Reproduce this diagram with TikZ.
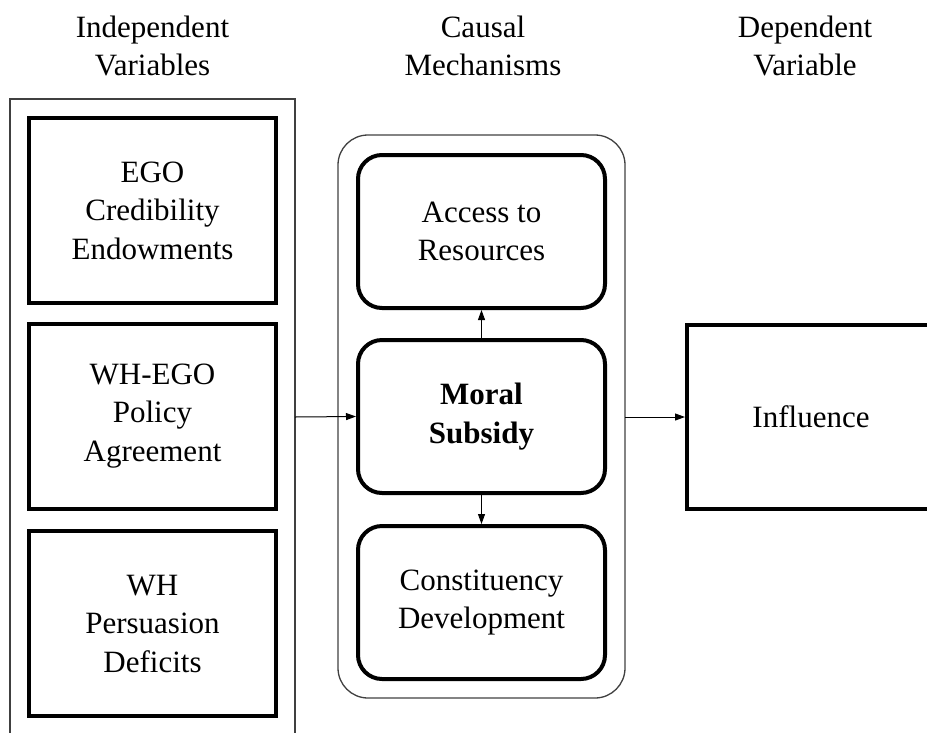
\documentclass[tikz,border=0pt]{standalone}
\usepackage{fontspec}
\setmainfont{Liberation Serif}
\usetikzlibrary{arrows.meta}
\begin{document}
\begin{tikzpicture}[x=1pt,y=-1pt,
  txt/.style={font=\fontsize{31}{38.5}\selectfont, align=center, inner sep=0pt},
  sqbox/.style={txt, draw, line width=4pt, minimum width=247pt, minimum height=185pt},
  rbox/.style={txt, draw, line width=4pt, rounded corners=24pt, minimum width=247pt, minimum height=153pt},
  thinframe/.style={draw=black!75, line width=1.3pt},
  conn/.style={line width=1pt, -{Triangle[length=10pt,width=7pt]}}]
\useasboundingbox (0,0) rectangle (927,732);
\clip (0,0) rectangle (927,732);

% headers
\node[txt] (h1) at (152.5,46) {Independent\\Variables};
\node[txt] (h2) at (483,46) {Causal\\Mechanisms};
\node[txt] (h3) at (805,46) {Dependent\\Variable};

% frames
\draw[thinframe] (10,99) rectangle (295,780);
\draw[thinframe, rounded corners=30pt] (338,135) rectangle (625,698);
\coordinate (lout) at (295,417);
\coordinate (mout) at (625,417);
\coordinate (min) at (338,417);

% left boxes
\node[sqbox] (ego) at (152.5,210.5) {EGO\\Credibility\\Endowments};
\node[sqbox] (whego) at (152.5,416) {WH-EGO\\Policy\\Agreement};
\node[sqbox] (wh) at (152.5,623.5) {WH\\Persuasion\\Deficits};

% middle boxes
\node[rbox] (acc) at (481.5,231.5) {Access to\\Resources};
\node[rbox] (moral) at (481.5,416.5) {\textbf{Moral}\\\textbf{Subsidy}};
\node[rbox] (const) at (481.5,602.5) {Constituency\\Development};

% right box
\node[txt, draw, line width=4pt, minimum width=248pt, minimum height=184pt] (infl) at (811,417) {Influence};

% connectors
\draw[conn] (lout) -- (moral.west);
\draw[conn] (mout) -- (infl.west);
\draw[conn] (moral.north) -- (acc.south);
\draw[conn] (moral.south) -- (const.north);
\end{tikzpicture}
\end{document}
